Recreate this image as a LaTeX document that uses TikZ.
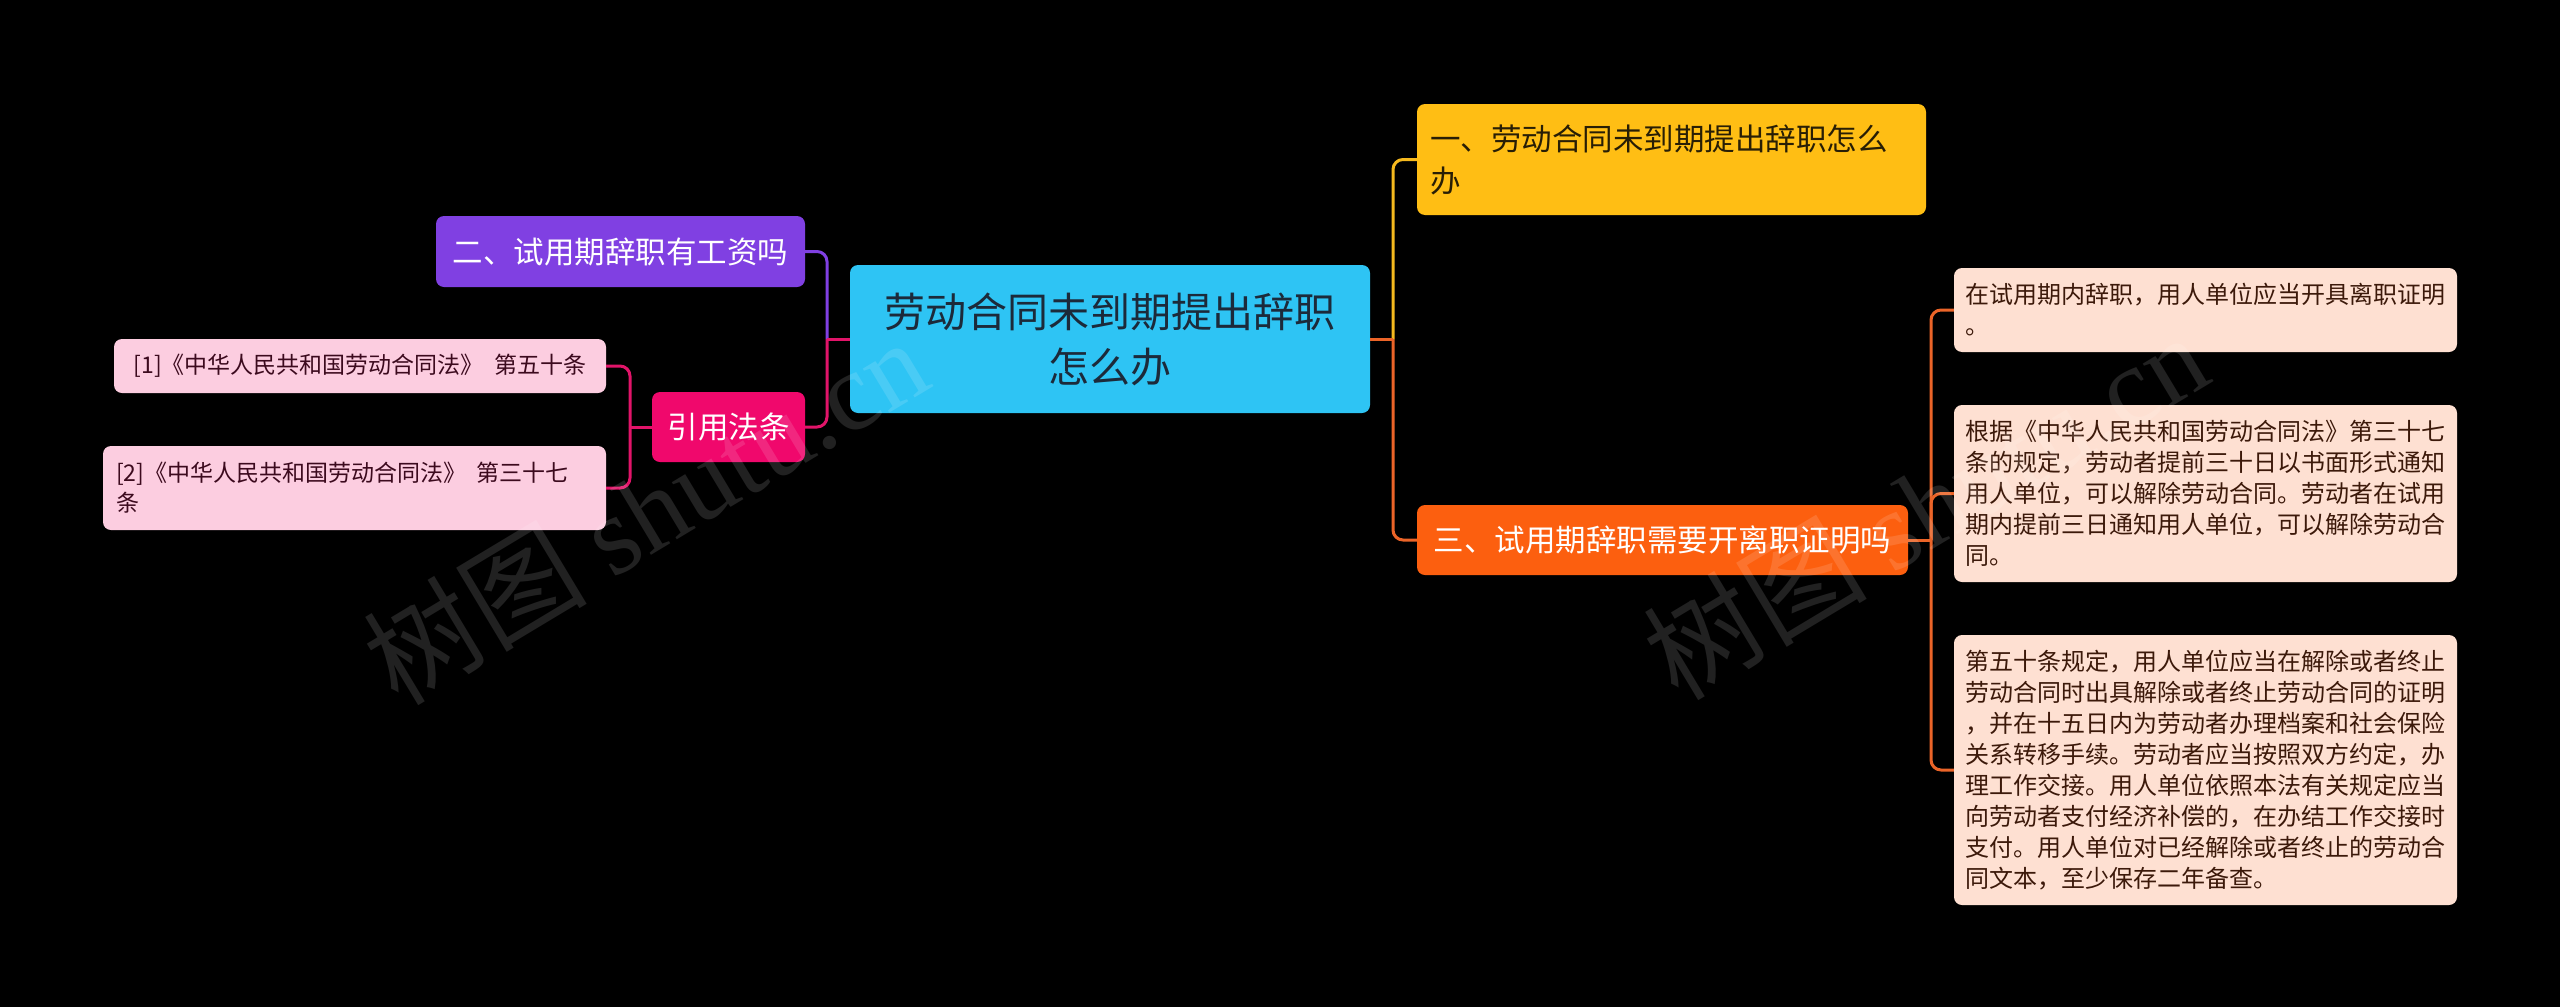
\documentclass[tikz,border=0pt]{standalone}
\usepackage{fontspec}
\setmainfont{Noto Sans CJK SC}
\newfontfamily\wmserif{Liberation Serif}
\definecolor{cyanfill}{RGB}{46,196,244}
\definecolor{cyantext}{RGB}{28,42,58}
\definecolor{purplefill}{RGB}{128,64,226}
\definecolor{pinkfill}{RGB}{240,8,108}
\definecolor{pinkline}{RGB}{225,20,105}
\definecolor{pinkleaf}{RGB}{252,205,224}
\definecolor{pinktext}{RGB}{60,10,30}
\definecolor{yellowfill}{RGB}{255,190,20}
\definecolor{yellowline}{RGB}{245,185,30}
\definecolor{yellowtext}{RGB}{40,30,5}
\definecolor{orangefill}{RGB}{252,95,15}
\definecolor{orangeline}{RGB}{235,100,40}
\definecolor{peachfill}{RGB}{254,224,210}
\definecolor{peachtext}{RGB}{60,25,10}
\begin{document}
\begin{tikzpicture}[x=1pt,y=-1pt,
  box/.style={rounded corners=8pt, inner sep=0pt, anchor=center},
  conn/.style={line width=3pt},
  rconn/.style={line width=3pt, rounded corners=10pt},
  wm/.style={text=white, text opacity=0.13, font=\fontsize{112}{112}\selectfont}]
\fill[black] (0,0) rectangle (2560,1007);
\useasboundingbox (0,0) rectangle (2560,1007);

% central
\node[box, fill=cyanfill, text=cyantext, minimum width=520pt, minimum height=148pt,
  align=center, font=\fontsize{41}{55}\selectfont] (c) at (1110,339) {劳动合同未到期提出辞职\\怎么办};

% left side
\node[box, fill=purplefill, text=white, minimum width=369pt, minimum height=71pt,
  font=\fontsize{30.5}{40}\selectfont] (p) at (620.5,251.5) {二、试用期辞职有工资吗};
\node[box, fill=pinkfill, text=white, minimum width=153pt, minimum height=70pt,
  font=\fontsize{30.5}{40}\selectfont] (r) at (728.5,427) {引用法条};
\node[box, fill=pinkleaf, text=pinktext, minimum width=492pt, minimum height=54pt,
  font=\fontsize{23}{30}\selectfont] (l1) at (360,366) {[1]《中华人民共和国劳动合同法》\hspace{0.45em}第五十条};
\node[box, fill=pinkleaf, text=pinktext, minimum width=503pt, minimum height=84pt,
  text width=477pt, align=left, font=\fontsize{23}{30}\selectfont] (l2) at (354.5,488) {[2]《中华人民共和国劳动合同法》\hspace{0.45em}第三十七\\条};

% right side
\node[box, fill=yellowfill, text=yellowtext, minimum width=509pt, minimum height=111pt,
  text width=483pt, align=left, font=\fontsize{30.5}{42}\selectfont] (y) at (1671.5,159.5) {一、劳动合同未到期提出辞职怎么\\办};
\node[box, fill=orangefill, text=white, minimum width=491pt, minimum height=70pt,
  font=\fontsize{30.5}{40}\selectfont] (o) at (1662.5,540) {三、试用期辞职需要开离职证明吗};

\node[box, fill=peachfill, text=peachtext, minimum width=503pt, minimum height=84pt,
  text width=481pt, align=left, font=\fontsize{24}{31}\selectfont] (a) at (2205.5,310)
  {在试用期内辞职，用人单位应当开具离职证明\\。};
\node[box, fill=peachfill, text=peachtext, minimum width=503pt, minimum height=177pt,
  text width=481pt, align=left, font=\fontsize{24}{31}\selectfont] (b) at (2205.5,493.5)
  {根据《中华人民共和国劳动合同法》第三十七\\条的规定，劳动者提前三十日以书面形式通知\\用人单位，可以解除劳动合同。劳动者在试用\\期内提前三日通知用人单位，可以解除劳动合\\同。};
\node[box, fill=peachfill, text=peachtext, minimum width=503pt, minimum height=270pt,
  text width=481pt, align=left, font=\fontsize{24}{31}\selectfont] (cc) at (2205.5,770)
  {第五十条规定，用人单位应当在解除或者终止\\劳动合同时出具解除或者终止劳动合同的证明\\，并在十五日内为劳动者办理档案和社会保险\\关系转移手续。劳动者应当按照双方约定，办\\理工作交接。用人单位依照本法有关规定应当\\向劳动者支付经济补偿的，在办结工作交接时\\支付。用人单位对已经解除或者终止的劳动合\\同文本，至少保存二年备查。};

% junctions
\coordinate (jl) at (827,339);
\coordinate (jr) at (1393,339);
\coordinate (jq) at (630,427);
\coordinate (jo) at (1931,540);

% connectors
\draw[rconn, yellowline] (jr) |- (y.west);
\draw[rconn, orangeline] (jr) |- (o.west);
\draw[conn, orangeline] (c.east) -- (jr);

\draw[rconn, purplefill] (jl) |- (p.east);
\draw[rconn, pinkline] (jl) |- (r.east);
\draw[conn, pinkline] (c.west) -- (jl);

\draw[conn, pinkline] (r.west) -- (jq);
\draw[rconn, pinkline] (jq) |- (l1.east);
\draw[rconn, pinkline] (jq) |- (l2.east);

\draw[conn, orangeline] (o.east) -- (jo);
\draw[rconn, orangeline] (jo) |- (a.west);
\draw[rconn, orangeline] (jo) |- (b.west);
\draw[rconn, orangeline] (jo) |- (cc.west);

% watermarks
\node[wm, rotate=31] (w1) at (645,510) {树图 {\wmserif shutu.cn}};
\node[wm, rotate=31] (w2) at (1925,505) {树图 {\wmserif shutu.cn}};
\end{tikzpicture}
\end{document}
